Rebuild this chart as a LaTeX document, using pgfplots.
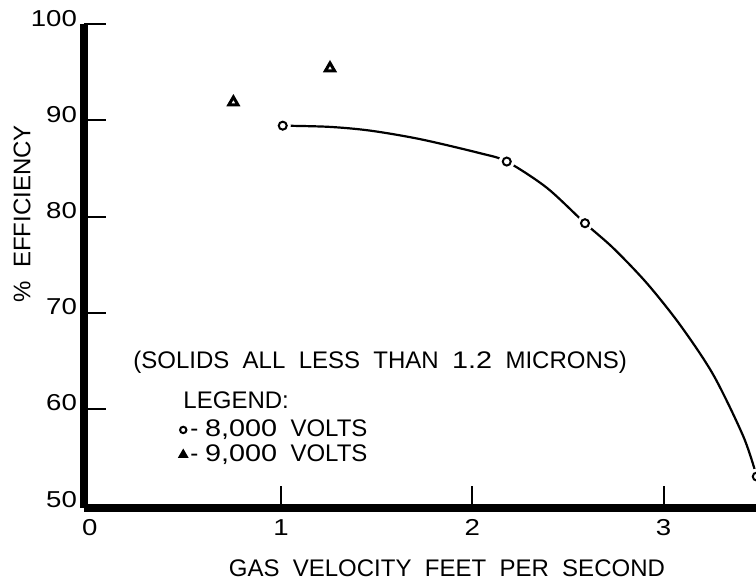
\documentclass[border=0pt]{standalone}
\usepackage{fontspec}
\setmainfont{Liberation Sans}
\newfontfamily\widefont{Liberation Sans}[FakeStretch=1.2]
\usepackage{pgfplots}
\pgfplotsset{compat=1.18}

% measured efficiency, 8,000 V
\pgfplotstableread{
x      y
1.009  89.45
2.180  85.72
2.589  79.31
3.487  52.97
}\eightkv

% measured efficiency, 9,000 V
\pgfplotstableread{
x      y
0.751  91.89
1.256  95.43
}\ninekv

% faired curve through the 8,000 V points
\pgfplotstableread{
x      y
1.009  89.45
1.250  89.33
1.465  88.94
1.727  88.05
2.040  86.59
2.180  85.72
2.389  83.00
2.589  79.31
2.737  76.72
2.912  73.08
3.086  68.74
3.260  63.54
3.417  57.13
3.487  52.97
}\fairing

\begin{document}
\begin{tikzpicture}
\useasboundingbox (-42pt,-39pt) rectangle (336pt,254pt);
\begin{axis}[
  at={(0,0)}, anchor=south west,
  scale only axis, width=336pt, height=241.9pt,
  xmin=-0.03, xmax=3.483, ymin=49.7, ymax=100,
  axis lines=left,
  axis line style={-, line width=4.3pt},
  xtick={1,2,3}, ytick={60,70,80,90,100},
  extra x ticks={0}, extra y ticks={50},
  extra tick style={major tick length=0pt},
  tick align=inside, major tick length=11pt,
  tick style={line width=1pt, black},
  xticklabel style={yshift=-2.3pt},
  yticklabel style={yshift=3pt},
  tick label style={font=\widefont\fontsize{11.5}{13}\selectfont},
  /pgf/number format/assume math mode=true,
  clip=false,
  legend style={draw=none, fill=none, inner sep=0pt,
    at={(axis cs:0.47,59.3)}, anchor=north west,
    font=\fontsize{12}{13}\selectfont, row sep=-1.5pt},
  legend cell align=left,
  legend image code/.code={\draw[#1, mark size=1.6pt] plot coordinates {(0.15cm,0cm)};},
]
\addplot[forget plot, black, line width=1.1pt, smooth, tension=0.5, no marks] table {\fairing};
\addplot[forget plot, only marks, white, mark=*, mark size=3.8pt] table {\eightkv};
\addplot[only marks, black, mark=o, mark size=2pt,
  mark options={line width=1pt}] table {\eightkv};
\addlegendentry{-\ {\widefont 8,000}\ \ VOLTS}
\addplot[only marks, black, mark=triangle, mark size=2.6pt,
  mark options={line width=1.5pt}] table {\ninekv};
\addlegendentry{-\ {\widefont 9,000}\ \ VOLTS}

\node[anchor=west, inner sep=0pt, font=\fontsize{12}{13}\selectfont] at (axis cs:0.488,60.95) {LEGEND:};
\node[anchor=west, inner sep=0pt, font=\fontsize{12}{14}\selectfont] at (axis cs:0.226,64.9)
  {(SOLIDS\ \ ALL\ \ LESS\ \ THAN\ \ {\widefont 1.2}\ \ MICRONS)};
\node[font=\fontsize{12}{14}\selectfont] at (rel axis cs:0.54,0) [yshift=-30pt]
  {GAS\ \ VELOCITY\ \ FEET\ \ PER\ \ SECOND};
\node[rotate=90, font=\fontsize{12}{14}\selectfont] at (axis cs:-0.354,80.28)
  {\%\ \ EFFICIENCY};
\end{axis}
\end{tikzpicture}
\end{document}
